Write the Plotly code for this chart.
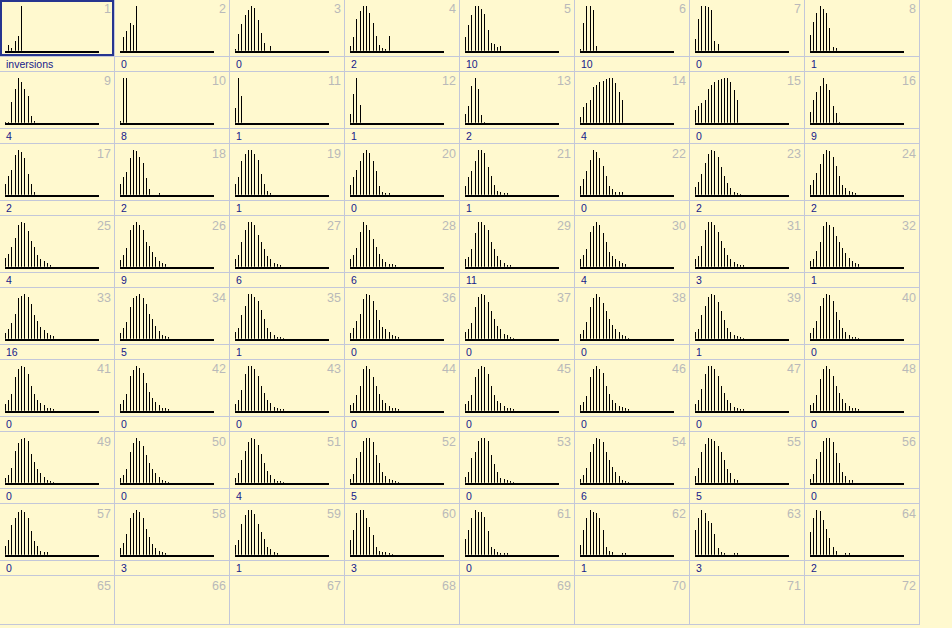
import plotly.graph_objects as go

# ---------------- data (normalised spike heights per cell, bin 0..n) ----------------
row1_hist = [
    [0, 0.13, 0.05, 0.21, 0.33, 1.0],
    [0, 0.31, 0.43, 0.63, 0.57, 1.0],
    [0.04, 0.37, 0.59, 0.79, 0.91, 1.0, 0.96, 0.68, 0.40, 0.17, 0, 0.10],
    [0.10, 0.31, 0.72, 0.88, 1.0, 1.0, 0.84, 0.62, 0.33, 0.12, 0.07, 0.04, 0.33],
    [0.30, 0.58, 0.79, 1.0, 1.0, 0.93, 0.82, 0.47, 0.17, 0.15, 0.09, 0.10],
    [0.04, 0.63, 1.0, 0.99, 0.91, 0.10],
    [0.26, 0.72, 1.0, 1.0, 0.97, 0.91, 0.21, 0.15],
    [0.35, 0.64, 0.85, 1.0, 0.93, 0.85, 0.51, 0.08, 0.06],
]
row2_hist = [
    [0.02, 0.02, 0.46, 0.76, 1.0, 0.90, 0.76, 0.60, 0.16, 0.04],
    [0.03, 1.0, 1.0],
    [0.33, 1.0, 0.60],
    [0.20, 0.65, 1.0, 0.40],
    [0.20, 0.38, 0.82, 1.0, 0.75, 0.18, 0.02],
    [0.13, 0.35, 0.43, 0.51, 0.79, 0.85, 0.90, 0.93, 0.97, 1.0, 1.0, 0.88, 0.69, 0.51],
    [0.29, 0.38, 0.45, 0.51, 0.76, 0.85, 0.90, 0.95, 0.98, 1.0, 0.99, 0.91, 0.74, 0.51],
    [0.24, 0.51, 0.68, 0.82, 1.0, 0.87, 0.74, 0.38, 0.21, 0.02],
]
row3_hist = [
    [0.24, 0.41, 0.56, 0.88, 1.0, 0.95, 0.83, 0.47, 0.25, 0.05],
    [0.25, 0.39, 0.51, 0.83, 1.0, 0.97, 0.85, 0.71, 0.38, 0.12, 0, 0, 0.03],
    [0.25, 0.39, 0.76, 0.91, 1.0, 1.0, 0.91, 0.78, 0.46, 0.23, 0.09, 0.03],
    [0.22, 0.39, 0.56, 0.76, 0.93, 1.0, 0.93, 0.76, 0.53, 0.20, 0.07, 0.04, 0.03],
    [0.20, 0.39, 0.53, 0.76, 1.0, 1.0, 0.93, 0.62, 0.42, 0.21, 0.08, 0.05, 0.03, 0.03],
    [0.20, 0.36, 0.53, 0.77, 1.0, 0.95, 0.82, 0.64, 0.42, 0.20, 0.12, 0.05, 0.07, 0.05],
    [0.18, 0.29, 0.47, 0.71, 0.91, 1.0, 0.97, 0.85, 0.62, 0.42, 0.26, 0.14, 0.05, 0.03, 0.02],
    [0.21, 0.33, 0.49, 0.69, 0.91, 1.0, 0.97, 0.85, 0.65, 0.42, 0.22, 0.15, 0.09, 0.05, 0.03],
]
row4_hist = [
    [0.20, 0.29, 0.45, 0.64, 0.93, 1.0, 0.97, 0.80, 0.58, 0.45, 0.26, 0.18, 0.12, 0.08, 0.04],
    [0.15, 0.27, 0.42, 0.82, 0.94, 1.0, 0.94, 0.81, 0.56, 0.46, 0.33, 0.21, 0.12, 0.08, 0.07],
    [0.18, 0.27, 0.55, 0.81, 1.0, 1.0, 0.93, 0.71, 0.55, 0.39, 0.24, 0.17, 0.09, 0.05, 0.04],
    [0.18, 0.26, 0.42, 0.78, 1.0, 0.94, 0.81, 0.61, 0.43, 0.28, 0.17, 0.11, 0.07, 0.05, 0.04],
    [0.17, 0.21, 0.40, 0.75, 1.0, 1.0, 0.93, 0.81, 0.56, 0.40, 0.24, 0.15, 0.08, 0.04, 0.04],
    [0.17, 0.26, 0.39, 0.77, 0.91, 1.0, 0.94, 0.75, 0.56, 0.34, 0.24, 0.17, 0.12, 0.08, 0.05],
    [0.17, 0.24, 0.47, 0.81, 1.0, 1.0, 0.94, 0.77, 0.58, 0.42, 0.27, 0.18, 0.11, 0.06, 0.04, 0.04],
    [0.12, 0.18, 0.36, 0.56, 0.91, 1.0, 0.94, 0.88, 0.69, 0.55, 0.42, 0.30, 0.20, 0.12, 0.08, 0.05],
]
row5_hist = [
    [0.12, 0.22, 0.36, 0.56, 0.91, 0.96, 1.0, 0.94, 0.78, 0.52, 0.39, 0.27, 0.20, 0.12, 0.08, 0.05],
    [0.12, 0.23, 0.38, 0.71, 0.91, 0.96, 1.0, 0.91, 0.78, 0.56, 0.44, 0.28, 0.18, 0.09, 0.05, 0.04],
    [0.14, 0.24, 0.53, 0.74, 1.0, 1.0, 0.94, 0.84, 0.64, 0.43, 0.24, 0.16, 0.09, 0.04, 0.04, 0.02],
    [0.12, 0.24, 0.39, 0.56, 0.88, 1.0, 0.97, 0.84, 0.64, 0.42, 0.27, 0.22, 0.15, 0.08, 0.05, 0.04],
    [0.14, 0.21, 0.36, 0.71, 0.93, 1.0, 0.97, 0.82, 0.62, 0.43, 0.28, 0.21, 0.11, 0.08, 0.04, 0.02],
    [0.11, 0.20, 0.37, 0.71, 0.91, 1.0, 0.94, 0.80, 0.61, 0.43, 0.30, 0.21, 0.14, 0.08, 0.05, 0.02],
    [0.14, 0.21, 0.53, 0.74, 0.93, 1.0, 0.97, 0.82, 0.62, 0.42, 0.23, 0.16, 0.08, 0.05, 0.04, 0.02],
    [0.12, 0.23, 0.39, 0.74, 0.91, 1.0, 0.97, 0.84, 0.59, 0.42, 0.23, 0.15, 0.08, 0.04, 0.04, 0.02],
]
row6_hist = [
    [0.15, 0.23, 0.37, 0.75, 0.93, 1.0, 0.97, 0.81, 0.56, 0.37, 0.24, 0.17, 0.12, 0.07, 0.05, 0.04],
    [0.15, 0.24, 0.37, 0.77, 0.91, 1.0, 0.96, 0.85, 0.61, 0.42, 0.28, 0.20, 0.12, 0.07, 0.05, 0.04],
    [0.15, 0.24, 0.47, 0.81, 1.0, 1.0, 0.94, 0.77, 0.56, 0.39, 0.24, 0.17, 0.09, 0.07, 0.04, 0.04],
    [0.12, 0.18, 0.36, 0.55, 0.93, 1.0, 0.93, 0.75, 0.56, 0.37, 0.24, 0.17, 0.11, 0.07, 0.05, 0.04],
    [0.15, 0.21, 0.36, 0.75, 0.93, 1.0, 0.97, 0.82, 0.56, 0.36, 0.21, 0.18, 0.11, 0.05, 0.05, 0.04],
    [0.12, 0.20, 0.34, 0.75, 0.93, 1.0, 0.94, 0.84, 0.56, 0.37, 0.24, 0.17, 0.11, 0.08, 0.05, 0.04],
    [0.15, 0.23, 0.49, 0.81, 1.0, 1.0, 0.94, 0.77, 0.56, 0.39, 0.24, 0.17, 0.09, 0.07, 0.04, 0.04],
    [0.12, 0.18, 0.36, 0.71, 0.93, 1.0, 0.93, 0.77, 0.56, 0.39, 0.26, 0.17, 0.11, 0.07, 0.05, 0.04],
]
row7_hist = [
    [0.11, 0.18, 0.33, 0.71, 0.88, 0.97, 1.0, 0.94, 0.65, 0.46, 0.30, 0.21, 0.12, 0.07, 0.04, 0.02],
    [0.11, 0.18, 0.31, 0.69, 0.88, 1.0, 0.94, 0.82, 0.61, 0.43, 0.31, 0.21, 0.12, 0.07, 0.04, 0.02],
    [0.11, 0.21, 0.50, 0.72, 0.91, 1.0, 0.97, 0.85, 0.64, 0.43, 0.26, 0.18, 0.09, 0.04, 0.04, 0.02],
    [0.09, 0.20, 0.55, 0.68, 0.93, 0.99, 1.0, 0.90, 0.62, 0.43, 0.23, 0.15, 0.08, 0.05, 0.04, 0.02],
    [0.12, 0.23, 0.55, 0.68, 0.94, 0.99, 1.0, 0.93, 0.62, 0.42, 0.23, 0.11, 0.09, 0.05, 0.04, 0.02],
    [0.09, 0.18, 0.33, 0.68, 0.87, 1.0, 0.97, 0.91, 0.69, 0.50, 0.35, 0.23, 0.14, 0.07, 0.04, 0.02],
    [0.14, 0.33, 0.69, 0.87, 1.0, 0.97, 0.94, 0.82, 0.68, 0.50, 0.30, 0.21, 0.08, 0.07],
    [0.09, 0.20, 0.53, 0.68, 0.94, 0.99, 1.0, 0.90, 0.66, 0.43, 0.23, 0.15, 0.07, 0.05],
]
row8_hist = [
    [0.20, 0.33, 0.66, 0.82, 0.96, 1.0, 0.96, 0.82, 0.52, 0.30, 0.20, 0.09, 0.07, 0.05],
    [0.15, 0.26, 0.46, 0.82, 0.93, 1.0, 0.96, 0.82, 0.58, 0.39, 0.24, 0.14, 0.09, 0.05, 0.04],
    [0.21, 0.33, 0.68, 0.88, 1.0, 1.0, 0.91, 0.68, 0.50, 0.36, 0.18, 0.12, 0.07, 0.04],
    [0.33, 0.55, 0.93, 1.0, 0.99, 0.82, 0.62, 0.43, 0.17, 0.08, 0.07, 0.05, 0.04, 0.02],
    [0.36, 0.55, 0.82, 1.0, 0.96, 0.96, 0.85, 0.53, 0.17, 0.12, 0.07, 0.04, 0.04, 0.03],
    [0.21, 0.55, 0.82, 1.0, 0.96, 0.93, 0.81, 0.56, 0.18, 0.09, 0.05, 0, 0, 0.04, 0.04],
    [0.55, 0.82, 1.0, 0.93, 0.75, 0.72, 0.46, 0.15, 0.07, 0.04, 0, 0, 0.04, 0.04],
    [0.50, 0.82, 1.0, 0.97, 0.78, 0.58, 0.37, 0.18, 0.09, 0, 0, 0.04, 0.04],
]

row1_labels = ["inversions", "0", "0", "2", "10", "10", "0", "1"]
row2_labels = ["4", "8", "1", "1", "2", "4", "0", "9"]
row3_labels = ["2", "2", "1", "0", "1", "0", "2", "2"]
row4_labels = ["4", "9", "6", "6", "11", "4", "3", "1"]
row5_labels = ["16", "5", "1", "0", "0", "0", "1", "0"]
row6_labels = ["0", "0", "0", "0", "0", "0", "0", "0"]
row7_labels = ["0", "0", "4", "5", "0", "6", "5", "0"]
row8_labels = ["0", "3", "1", "3", "0", "1", "3", "2"]

cell_numbers = list(range(1, 73))   # 9 rows x 8 columns

hists = row1_hist + row2_hist + row3_hist + row4_hist + row5_hist + row6_hist + row7_hist + row8_hist
labels = (row1_labels + row2_labels + row3_labels + row4_labels + row5_labels
          + row6_labels + row7_labels + row8_labels)

# ---------------- layout geometry (pixels) ----------------
W, H = 952, 628
NCOL = 8
COL_W, ROW_H = 115, 72
GRID_RIGHT = 920
GRID_BOTTOM = 624.5
BIN_RANGE = [-0.15, 29.0]
PLOT_L, PLOT_R = 5.0, 99.0          # baseline span inside a cell
PLOT_TOP, PLOT_BOT = 6.0, 50.7
px_per_bin = (PLOT_R - PLOT_L) / (BIN_RANGE[1] - BIN_RANGE[0])

BG = "#FFF9CF"
GRID = "#C3C7D9"
LABEL_C = "#16208A"
NUM_C = "#B9B9B9"
SEL_C = "#26358F"


def px(x):
    return x / W


def py(y):
    return 1 - y / H


fig = go.Figure()
layout = {}
for i, vals in enumerate(hists):
    r, c = divmod(i, NCOL)
    left, top = c * COL_W, r * ROW_H
    sfx = "" if i == 0 else str(i + 1)
    fig.add_trace(go.Bar(
        x=list(range(len(vals))), y=vals,
        width=1.0 / px_per_bin,
        marker=dict(color="rgba(0,0,0,0.995)", line=dict(width=0)),
        xaxis="x" + sfx, yaxis="y" + sfx,
        showlegend=False, hoverinfo="skip",
    ))
    layout["xaxis" + sfx] = dict(
        domain=[px(left + PLOT_L), px(left + PLOT_R)], range=BIN_RANGE,
        showline=True, linecolor="black", linewidth=2, mirror=False,
        showgrid=False, zeroline=False, showticklabels=False, ticks="",
        anchor="y" + sfx, fixedrange=True,
    )
    layout["yaxis" + sfx] = dict(
        domain=[py(top + PLOT_BOT), py(top + PLOT_TOP)], range=[0, 1],
        visible=False, anchor="x" + sfx, fixedrange=True,
    )

shapes = []
line = dict(color=GRID, width=1)
# horizontal lines: separators above labels and row borders
for r in range(8):
    for yy in (r * ROW_H + 56.5, r * ROW_H + 71.5):
        shapes.append(dict(type="line", xref="paper", yref="paper",
                           x0=0, x1=px(GRID_RIGHT), y0=py(yy), y1=py(yy), line=line))
shapes.append(dict(type="line", xref="paper", yref="paper",
                   x0=0, x1=px(GRID_RIGHT), y0=py(GRID_BOTTOM), y1=py(GRID_BOTTOM), line=line))
# vertical lines
for c in range(NCOL):
    xx = c * COL_W + 114.5
    shapes.append(dict(type="line", xref="paper", yref="paper",
                       x0=px(xx), x1=px(xx), y0=1, y1=py(GRID_BOTTOM), line=line))
# selected first cell
shapes.append(dict(type="rect", xref="paper", yref="paper",
                   x0=px(1), x1=px(113), y0=py(1), y1=py(55),
                   line=dict(color=SEL_C, width=2)))

annotations = []
for i, lab in enumerate(labels):
    r, c = divmod(i, NCOL)
    annotations.append(dict(
        text=lab, xref="paper", yref="paper", x=px(c * COL_W + 4), y=py(r * ROW_H + 63.8),
        xanchor="left", yanchor="middle", showarrow=False,
        font=dict(family="Liberation Sans, Arial, sans-serif", size=10.5, color=LABEL_C),
    ))
for i, n in enumerate(cell_numbers):
    r, c = divmod(i, NCOL)
    annotations.append(dict(
        text=str(n), xref="paper", yref="paper", x=px(c * COL_W + 113), y=py(r * ROW_H + 9.5),
        xanchor="right", yanchor="middle", showarrow=False,
        font=dict(family="Liberation Sans Narrow, Liberation Sans, Arial, sans-serif", size=12.5, color=NUM_C),
    ))

fig.update_layout(
    width=W, height=H, margin=dict(l=0, r=0, t=0, b=0),
    paper_bgcolor=BG, plot_bgcolor="rgba(0,0,0,0)",
    bargap=0, showlegend=False,
    shapes=shapes, annotations=annotations,
    **layout,
)
fig.write_html("out.html", config={"displayModeBar": False})
